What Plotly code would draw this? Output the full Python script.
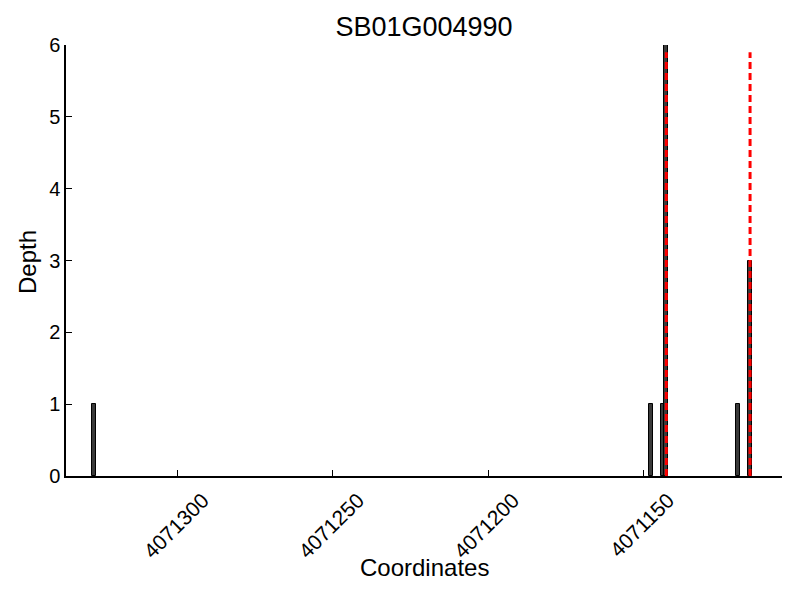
import plotly.graph_objects as go

title_text = "SB01G004990"
positions = [4071327, 4071147.5, 4071143.5, 4071142.5, 4071119.5, 4071115.5]
depths = [1, 1, 1, 6, 1, 3]
marker_positions = [4071142.5, 4071115.5]
marker_top = 5.9
x_ticks = [4071300, 4071250, 4071200, 4071150]
y_ticks = [0, 1, 2, 3, 4, 5, 6]

FONT = "Liberation Sans, Arial, sans-serif"

# page body has an 8px default margin, so figure coordinates are offset by 8px
fig = go.Figure()
fig.add_trace(go.Bar(
    x=positions, y=depths, width=[1.2] * len(positions),
    marker=dict(color="#3a3a3a", line=dict(color="#000000", width=1)),
    showlegend=False,
))
for p in marker_positions:
    fig.add_trace(go.Scatter(
        x=[p, p], y=[0, marker_top], mode="lines",
        line=dict(color="#ff0000", width=3, dash="7px,4px"),
        showlegend=False,
    ))

fig.update_layout(
    width=800, height=600,
    margin=dict(l=58, r=26, t=37, b=132),
    plot_bgcolor="white", paper_bgcolor="white",
    font=dict(family=FONT, color="black"),
    title=dict(text=title_text, x=0.5, xref="paper", xanchor="center",
               y=1 - 19 / 600, yref="container", yanchor="middle",
               font=dict(size=27, family=FONT, color="black")),
    bargap=0,
    xaxis=dict(
        range=[4071336.1, 4071105.2],
        tickvals=x_ticks, ticktext=[str(t) for t in x_ticks],
        tickangle=-45, ticks="inside", ticklen=6, tickcolor="black",
        tickfont=dict(size=21, family=FONT),
        ticklabelshift=-25, ticklabelstandoff=2,
        showline=True, linecolor="black", linewidth=1.5,
        showgrid=False, zeroline=False, mirror=False,
    ),
    yaxis=dict(
        range=[0, 6], tickvals=y_ticks,
        ticks="inside", ticklen=6, tickcolor="black",
        tickfont=dict(size=20, family=FONT),
        showline=True, linecolor="black", linewidth=1.5,
        showgrid=False, zeroline=False, mirror=False,
    ),
    annotations=[
        dict(text="Coordinates", xref="paper", yref="paper", x=0.5,
             y=-(567 - 476) / 431, xanchor="center", yanchor="middle",
             showarrow=False, font=dict(size=24, family=FONT)),
        dict(text="Depth", xref="paper", yref="paper", x=-(66 - 27) / 716,
             y=(476 - 262) / 431, xanchor="center", yanchor="middle",
             textangle=-90, showarrow=False, font=dict(size=24, family=FONT)),
    ],
)

fig.write_html("out.html")
